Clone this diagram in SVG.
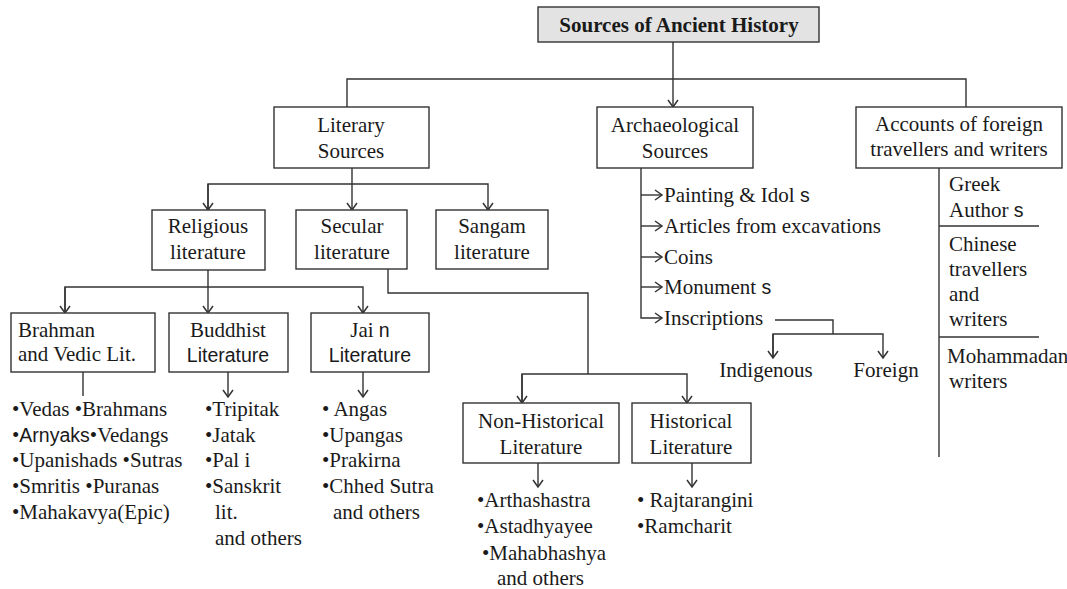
<svg xmlns="http://www.w3.org/2000/svg" width="1067" height="589" viewBox="0 0 1067 589">
<style>
.box{fill:#fff;stroke:#333;stroke-width:1.4}
.t{font-family:"Liberation Serif","Times New Roman",serif;font-size:21px;fill:#1a1a1a}
.s{font-family:"Liberation Sans",Arial,sans-serif;font-size:19.5px;fill:#1a1a1a}
.c{text-anchor:middle}
.ln{fill:none;stroke:#333;stroke-width:1.4}
</style>
<defs>
<marker id="arr" markerWidth="12" markerHeight="12" refX="10" refY="6" orient="auto" markerUnits="userSpaceOnUse">
<path d="M3,1 L10,6 L3,11" fill="none" stroke="#333" stroke-width="1.5"/>
</marker>
</defs>
<rect width="1067" height="589" fill="#fff"/>
<g id="connectors">
<path class="ln" d="M673,42 V107" marker-end="url(#arr)"/>
<path class="ln" d="M347,107 V79 H966 V107"/>
<path class="ln" d="M352,168 V184"/>
<path class="ln" d="M208,210 V184 H488 V210" marker-end="url(#arr)"/>
<path class="ln" d="M352,184 V210" marker-end="url(#arr)"/>
<path class="ln" d="M208,184 V210" marker-end="url(#arr)"/>
<path class="ln" d="M208,270 V313" marker-end="url(#arr)"/>
<path class="ln" d="M65,313 V287 H363 V313" marker-end="url(#arr)"/>
<path class="ln" d="M65,287 V313" marker-end="url(#arr)"/>
<path class="ln" d="M83,372 V396"/>
<path class="ln" d="M228,372 V397" marker-end="url(#arr)"/>
<path class="ln" d="M363,372 V397" marker-end="url(#arr)"/>
<path class="ln" d="M388,269 V293 H588 V374"/>
<path class="ln" d="M522,403 V374 H687 V403" marker-end="url(#arr)"/>
<path class="ln" d="M522,374 V403" marker-end="url(#arr)"/>
<path class="ln" d="M538,463 V487" marker-end="url(#arr)"/>
<path class="ln" d="M692,463 V487" marker-end="url(#arr)"/>
<path class="ln" d="M641,168 V318 H662" marker-end="url(#arr)"/>
<path class="ln" d="M641,195 H662" marker-end="url(#arr)"/>
<path class="ln" d="M641,226 H662" marker-end="url(#arr)"/>
<path class="ln" d="M641,257 H662" marker-end="url(#arr)"/>
<path class="ln" d="M641,287 H662" marker-end="url(#arr)"/>
<path class="ln" d="M775,320 H833 V334"/>
<path class="ln" d="M773,358 V334 H883 V358" marker-end="url(#arr)"/>
<path class="ln" d="M773,334 V358" marker-end="url(#arr)"/>
<path class="ln" d="M939,168 V457"/>
<path class="ln" d="M939,226 H1039"/>
<path class="ln" d="M939,337 H1039"/>
</g>
<g id="title">
<rect x="538" y="7" width="281" height="35" fill="#e3e3e3" stroke="#333" stroke-width="1.4"/>
<text class="t c" x="679" y="32" font-weight="bold">Sources of Ancient History</text>
</g>
<g id="literary">
<rect class="box" x="274" y="107" width="155" height="61"/>
<text class="t c" x="351" y="132">Literary</text>
<text class="t c" x="351" y="158">Sources</text>
</g>
<g id="archaeological">
<rect class="box" x="597" y="107" width="156" height="61"/>
<text class="t c" x="675" y="132">Archaeological</text>
<text class="t c" x="675" y="158">Sources</text>
</g>
<g id="accounts">
<rect class="box" x="856" y="107" width="206" height="61"/>
<text class="t c" x="959" y="131">Accounts of foreign</text>
<text class="t c" x="959" y="156">travellers and writers</text>
</g>
<g id="religious">
<rect class="box" x="152" y="210" width="113" height="60"/>
<text class="t c" x="208" y="233">Religious</text>
<text class="t c" x="208" y="259">literature</text>
</g>
<g id="secular">
<rect class="box" x="296" y="210" width="111" height="59"/>
<text class="t c" x="352" y="233">Secular</text>
<text class="t c" x="352" y="259">literature</text>
</g>
<g id="sangam">
<rect class="box" x="436" y="210" width="112" height="59"/>
<text class="t c" x="492" y="233">Sangam</text>
<text class="t c" x="492" y="259">literature</text>
</g>
<g id="brahman">
<rect class="box" x="11" y="313" width="144" height="59"/>
<text class="t" x="18" y="337">Brahman</text>
<text class="t" x="18" y="361">and Vedic Lit.</text>
</g>
<g id="buddhist">
<rect class="box" x="169" y="313" width="119" height="59"/>
<text class="t c" x="228" y="337">Buddhist</text>
<text class="s c" x="228" y="362">Literature</text>
</g>
<g id="jain">
<rect class="box" x="311" y="313" width="118" height="59"/>
<text class="t c" x="370" y="337">Jai <tspan class="s">n</tspan></text>
<text class="s c" x="370" y="362">Literature</text>
</g>
<g id="brahman-list">
<text class="t" x="12" y="416">•Vedas •Brahmans</text>
<text class="t" x="12" y="442">•<tspan class="s">Arnyaks</tspan>•Vedangs</text>
<text class="t" x="12" y="467">•Upanishads •Sutras</text>
<text class="t" x="12" y="493">•Smritis •Puranas</text>
<text class="t" x="12" y="519">•Mahakavya(Epic)</text>
</g>
<g id="buddhist-list">
<text class="t" x="205" y="416">•Tripitak</text>
<text class="t" x="205" y="442">•Jatak</text>
<text class="t" x="205" y="467">•Pal i</text>
<text class="t" x="205" y="493">•Sanskrit</text>
<text class="t" x="215" y="519">lit.</text>
<text class="t" x="215" y="545">and others</text>
</g>
<g id="jain-list">
<text class="t" x="322" y="416">• Angas</text>
<text class="t" x="322" y="442">•Upangas</text>
<text class="t" x="322" y="467">•Prakirna</text>
<text class="t" x="322" y="493">•Chhed Sutra</text>
<text class="t" x="333" y="519">and others</text>
</g>
<g id="non-historical">
<rect class="box" x="463" y="403" width="156" height="60"/>
<text class="t c" x="541" y="428">Non-Historical</text>
<text class="t c" x="541" y="454">Literature</text>
</g>
<g id="historical">
<rect class="box" x="632" y="403" width="119" height="60"/>
<text class="t c" x="691" y="428">Historical</text>
<text class="t c" x="691" y="454">Literature</text>
</g>
<g id="non-historical-list">
<text class="t" x="477" y="507">•Arthashastra</text>
<text class="t" x="477" y="533">•Astadhyayee</text>
<text class="t" x="482" y="560">•Mahabhashya</text>
<text class="t" x="497" y="585">and others</text>
</g>
<g id="historical-list">
<text class="t" x="637" y="507">• Rajtarangini</text>
<text class="t" x="637" y="533">•Ramcharit</text>
</g>
<g id="archaeological-list">
<text class="t" x="664" y="202">Painting &amp; Idol <tspan class="s">s</tspan></text>
<text class="t" x="664" y="233">Articles from excavations</text>
<text class="t" x="664" y="264">Coins</text>
<text class="t" x="664" y="294">Monument <tspan class="s">s</tspan></text>
<text class="t" x="664" y="325">Inscriptions</text>
</g>
<g id="indigenous"><text class="t c" x="766" y="377">Indigenous</text></g>
<g id="foreign"><text class="t c" x="886" y="377">Foreign</text></g>
<g id="foreign-list">
<text class="t" x="949" y="191">Greek</text>
<text class="t" x="949" y="217">Author <tspan class="s">s</tspan></text>
<text class="t" x="949" y="251">Chinese</text>
<text class="t" x="949" y="276">travellers</text>
<text class="t" x="949" y="301">and</text>
<text class="t" x="949" y="326">writers</text>
<text class="t" x="947" y="363" font-size="19">Mohammadan</text>
<text class="t" x="949" y="388">writers</text>
</g>
</svg>
